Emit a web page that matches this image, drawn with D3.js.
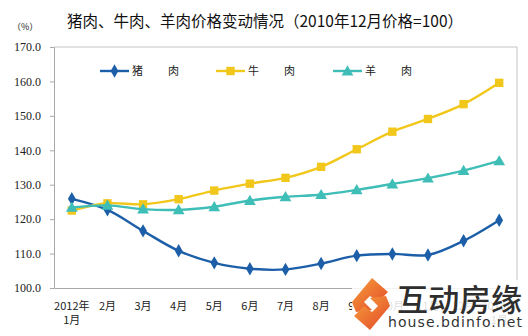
<!DOCTYPE html>
<html>
<head>
<meta charset="utf-8">
<script src="https://cdn.jsdelivr.net/npm/d3@7"></script>
<style>
  html, body { margin: 0; padding: 0; background: #fff; }
  svg { display: block; }
</style>
</head>
<body>
<svg id="chart" width="528" height="336"></svg>
<script>
// Month categories, 2012-01 through 2013-01
const months = ["2012年\n1月", "2月", "3月", "4月", "5月", "6月", "7月", "8月", "9月", "10月", "11月", "12月", "2013年\n1月"];

// Price index, Dec 2010 = 100
const pork   = [125.9, 122.7, 116.6, 110.8, 107.3, 105.6, 105.4, 107.1, 109.4, 109.9, 109.6, 113.7, 119.7];
const beef   = [122.5, 124.6, 124.3, 125.8, 128.3, 130.3, 132.0, 135.2, 140.3, 145.4, 149.1, 153.4, 159.6];
const mutton = [123.4, 124.0, 122.9, 122.7, 123.6, 125.4, 126.5, 127.1, 128.5, 130.2, 131.9, 134.1, 136.9];

const yTicks = [100, 110, 120, 130, 140, 150, 160, 170];

const seriesNames = ["猪肉", "牛肉", "羊肉"];
const seriesColors = ["#1c5fa8", "#f2c71b", "#3fbdb7"];
const seriesShapes = [d3.symbolDiamond, d3.symbolSquare, d3.symbolTriangle];
const seriesSizes = [52, 70, 60];
const seriesData = [pork, beef, mutton];

const svg = d3.select("#chart");
const plotLeft = 54, plotRight = 517, plotTop = 47, plotBottom = 288;

const x = d3.scaleBand().domain(months).range([plotLeft, plotRight]);
const y = d3.scaleLinear().domain([100, 170]).range([plotBottom, plotTop]);

const cjk = "'Noto Sans CJK SC', 'Noto Sans', sans-serif";

// Title
svg.append("text")
  .attr("x", 265).attr("y", 27)
  .attr("text-anchor", "middle")
  .attr("font-family", cjk)
  .attr("font-size", 15.5)
  .attr("fill", "#111")
  .text("猪肉、牛肉、羊肉价格变动情况（2010年12月价格=100）");

// Unit label
svg.append("text")
  .attr("x", 12).attr("y", 30)
  .attr("font-family", cjk)
  .attr("font-size", 9)
  .attr("fill", "#222")
  .text("（%）");

// Plot frame (top and right)
svg.append("path")
  .attr("d", `M${plotLeft},${plotTop}H${plotRight}V${plotBottom}`)
  .attr("fill", "none")
  .attr("stroke", "#c4c4c4")
  .attr("stroke-width", 1);

// Y axis
const yAxis = svg.append("g")
  .attr("transform", `translate(${plotLeft},0)`)
  .call(d3.axisLeft(y).tickValues(yTicks).tickFormat(d3.format(".1f")).tickSize(4).tickSizeOuter(0));
yAxis.select(".domain").attr("stroke", "#a8a8a8");
yAxis.selectAll(".tick line").attr("stroke", "#a8a8a8");
yAxis.selectAll(".tick text")
  .attr("x", -13)
  .attr("font-family", "'Liberation Serif', 'Times New Roman', serif")
  .attr("font-size", 12)
  .attr("fill", "#222");

// X axis
const xAxis = svg.append("g")
  .attr("transform", `translate(0,${plotBottom})`)
  .call(d3.axisBottom(x).tickSize(0).tickSizeOuter(0).tickFormat(""));
xAxis.select(".domain").attr("stroke", "#a8a8a8");
xAxis.selectAll(".tick").each(function(d) {
  const lines = d.split("\n");
  const t = d3.select(this).append("text")
    .attr("text-anchor", "middle")
    .attr("font-family", cjk)
    .attr("font-size", 11)
    .attr("fill", "#222");
  lines.forEach((ln, i) => {
    t.append("tspan").attr("x", 0).attr("y", 22 + i * 14).text(ln);
  });
});

// Series lines (smoothed) and markers
const line = d3.line()
  .x((d, i) => x(months[i]) + x.bandwidth() / 2)
  .y(d => y(d))
  .curve(d3.curveCatmullRom.alpha(0.5));

seriesData.forEach((vals, s) => {
  const g = svg.append("g");
  g.append("path")
    .datum(vals)
    .attr("d", line)
    .attr("fill", "none")
    .attr("stroke", seriesColors[s])
    .attr("stroke-width", 2.4);
  g.selectAll("path.m")
    .data(vals)
    .join("path")
    .attr("class", "m")
    .attr("transform", (d, i) => `translate(${x(months[i]) + x.bandwidth() / 2},${y(d) + (s === 2 ? 1 : 0)})`)
    .attr("d", d3.symbol().type(seriesShapes[s]).size(seriesSizes[s]))
    .attr("fill", seriesColors[s]);
});

// Legend
const legendX = [100, 216, 333];
const legendY = 71;
seriesNames.forEach((name, s) => {
  const g = svg.append("g").attr("transform", `translate(${legendX[s]},${legendY})`);
  g.append("line").attr("x1", 0).attr("x2", 29).attr("y1", 0).attr("y2", 0)
    .attr("stroke", seriesColors[s]).attr("stroke-width", 2.4);
  g.append("path")
    .attr("transform", `translate(14.5,${s === 2 ? 1 : 0})`)
    .attr("d", d3.symbol().type(seriesShapes[s]).size(seriesSizes[s]))
    .attr("fill", seriesColors[s]);
  g.append("text").attr("x", 32).attr("y", 4)
    .attr("font-family", cjk).attr("font-size", 11).attr("fill", "#222")
    .text(name[0]);
  g.append("text").attr("x", 68).attr("y", 4)
    .attr("font-family", cjk).attr("font-size", 11).attr("fill", "#222")
    .text(name[1]);
});

// Site watermark, bottom right
const wm = svg.append("g");
const grad = svg.append("defs").append("linearGradient")
  .attr("id", "logoGrad").attr("x1", "0").attr("y1", "0").attr("x2", "1").attr("y2", "1");
grad.append("stop").attr("offset", "0").attr("stop-color", "#f7a23a");
grad.append("stop").attr("offset", "1").attr("stop-color", "#e2452a");
wm.append("rect").attr("x", 352).attr("y", 280).attr("width", 176).attr("height", 56)
  .attr("fill", "#fff").attr("opacity", 0.85).attr("rx", 8);
wm.append("path")
  .attr("d", "M372,278 L388,292 L378,302 L370,296 L364,302 L372,310 L356,312 L352,302 Z")
  .attr("fill", "url(#logoGrad)");
wm.append("path")
  .attr("d", "M370,330 L354,316 L364,306 L372,312 L378,306 L370,298 L386,296 L390,306 Z")
  .attr("fill", "url(#logoGrad)");
wm.append("text").attr("x", 397).attr("y", 311)
  .attr("font-family", cjk).attr("font-size", 31).attr("font-weight", 500)
  .attr("fill", "#2e2e2e").attr("textLength", 125)
  .text("互动房缘");
wm.append("text").attr("x", 388).attr("y", 327)
  .attr("font-family", "'DejaVu Sans', sans-serif").attr("font-size", 14)
  .attr("fill", "#333").attr("textLength", 134)
  .text("house.bdinfo.net");
</script>
</body>
</html>
